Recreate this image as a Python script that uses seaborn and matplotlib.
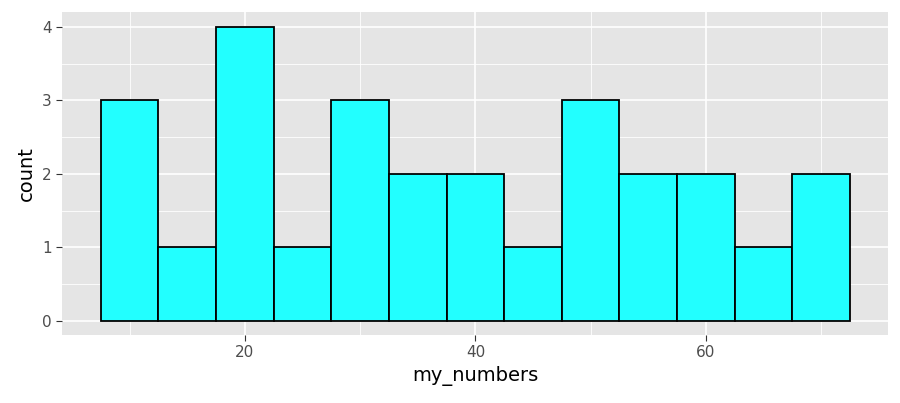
import matplotlib
matplotlib.use("Agg")
import matplotlib.pyplot as plt
import seaborn as sns
import pandas as pd

bin_centers = [10, 15, 20, 25, 30, 35, 40, 45, 50, 55, 60, 65, 70]
counts = [3, 1, 4, 1, 3, 2, 2, 1, 3, 2, 2, 1, 2]
x_ticks = [20, 40, 60]
y_ticks = [0, 1, 2, 3, 4]

df = pd.DataFrame({"my_numbers": bin_centers, "w": counts})

fig = plt.figure(figsize=(9, 4.03), dpi=100)
ax = fig.add_axes([62/900, 1-335/403, 826/900, 323/403])
ax.set_facecolor("#E5E5E5")
sns.histplot(data=df, x="my_numbers", weights="w", binwidth=5, binrange=(7.5, 72.5),
             color="#22FFFF", alpha=1, edgecolor="black", linewidth=1.3, ax=ax, zorder=3)
ax.set_xlim(4.13, 75.8)
ax.set_ylim(-0.19, 4.2)
ax.set_xticks(x_ticks)
ax.set_yticks(y_ticks)
ax.set_xticks([10, 30, 50, 70], minor=True)
ax.set_yticks([0.5, 1.5, 2.5, 3.5], minor=True)
ax.grid(which="major", color="white", linewidth=1.2, zorder=0)
ax.grid(which="minor", color="white", linewidth=0.6, zorder=0)
ax.set_axisbelow(True)
for s in ax.spines.values():
    s.set_visible(False)
ax.tick_params(which="major", length=4, color="#333333", labelsize=11, labelcolor="#4D4D4D")
ax.tick_params(which="minor", length=0)
ax.set_xlabel("my_numbers", fontsize=14)
ax.set_ylabel("count", fontsize=14)
fig.savefig("out.png")
